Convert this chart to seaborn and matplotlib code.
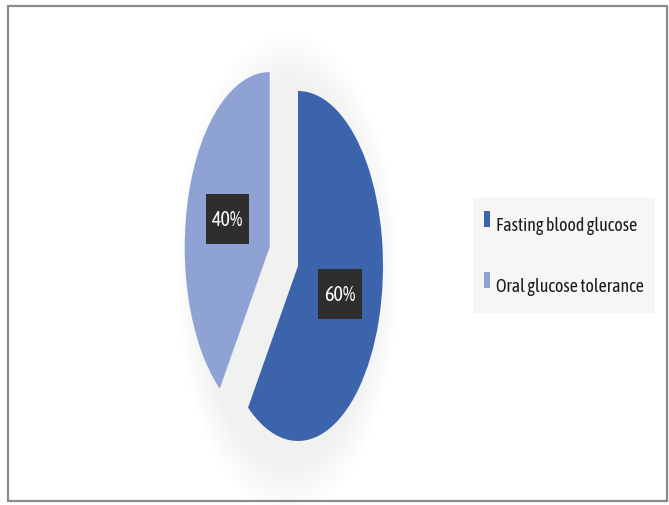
import matplotlib
matplotlib.use("Agg")
import matplotlib.pyplot as plt
import seaborn as sns
from matplotlib.patches import Ellipse, Rectangle
from matplotlib.lines import Line2D
from matplotlib.path import Path

categories = ["Fasting blood glucose", "Oral glucose tolerance"]
values = [60, 40]
colors = ["#3B64AD", "#8EA2D3"]
explode = [0.0, 0.35]

sns.set_theme(style="white")
plt.rcParams['font.family'] = ['Asap Condensed', 'Archivo Narrow', 'DejaVu Sans']

W, H = 669, 506
fig = plt.figure(figsize=(W / 100, H / 100), dpi=100)
fig.patch.set_facecolor("white")

# pie geometry in pixels
cx, cy = 298, 267
rx, ry = 85, 175
ax = fig.add_axes([0, 0, 1, 1])

# soft shadow halo
for i in range(14):
    s = 1.0 + 0.02 * (i + 1)
    ax.add_patch(Ellipse((-0.12, -0.04), 2 * s * 1.02, 2 * s * 1.08,
                         facecolor="black", alpha=0.005, lw=0, zorder=0))

wedges, texts, autotexts = ax.pie(
    values, colors=colors, explode=explode, startangle=90, counterclock=False,
    autopct="%1.0f%%", pctdistance=0.52, radius=1.0, frame=True,
    wedgeprops=dict(linewidth=0),
    textprops=dict(color="white", fontsize=14.5),
)
ax.set_xlim(-cx / rx, (W - cx) / rx)
ax.set_ylim(-(H - cy) / ry, cy / ry)
ax.set_aspect("auto")
ax.axis("off")


def tall_box(x0, y0, width, height, mutation_size):
    px = 0.3 * mutation_size
    py = 0.75 * mutation_size
    x0, x1 = x0 - px, x0 + width + px
    y0, y1 = y0 - py, y0 + height + py
    return Path([(x0, y0), (x1, y0), (x1, y1), (x0, y1), (x0, y0)], closed=True)


for w in wedges:
    w.set_zorder(2)
for t in autotexts:
    t.set_zorder(5)
    t.set_bbox(dict(boxstyle=tall_box, facecolor="#2e2e2e", edgecolor="none"))

# legend with small tall-rectangle markers
rect_marker = [(-0.4, -1), (0.4, -1), (0.4, 1), (-0.4, 1), (-0.4, -1)]
handles = [Line2D([], [], linestyle="none", marker=rect_marker, markersize=12,
                  markerfacecolor=w.get_facecolor(), markeredgewidth=0)
           for w in wedges]
leg = fig.legend(handles, categories, loc="center left",
                 bbox_to_anchor=(473 / W, 1 - 256 / H), frameon=True,
                 fontsize=12.9, handlelength=0.45, handleheight=2.4, handletextpad=0.3,
                 labelspacing=1.6, borderpad=0.55, borderaxespad=0, fancybox=False)
leg.get_frame().set_facecolor("#f4f4f4")
leg.get_frame().set_edgecolor("#f4f4f4")
for txt in leg.get_texts():
    txt.set_color("#1a1a1a")

# outer border
fig.add_artist(Rectangle((8 / W, 4 / H), 659 / W, 495 / H, transform=fig.transFigure,
                         fill=False, edgecolor="#8a8a8a", linewidth=1.6))

fig.savefig("out.png", dpi=100)
